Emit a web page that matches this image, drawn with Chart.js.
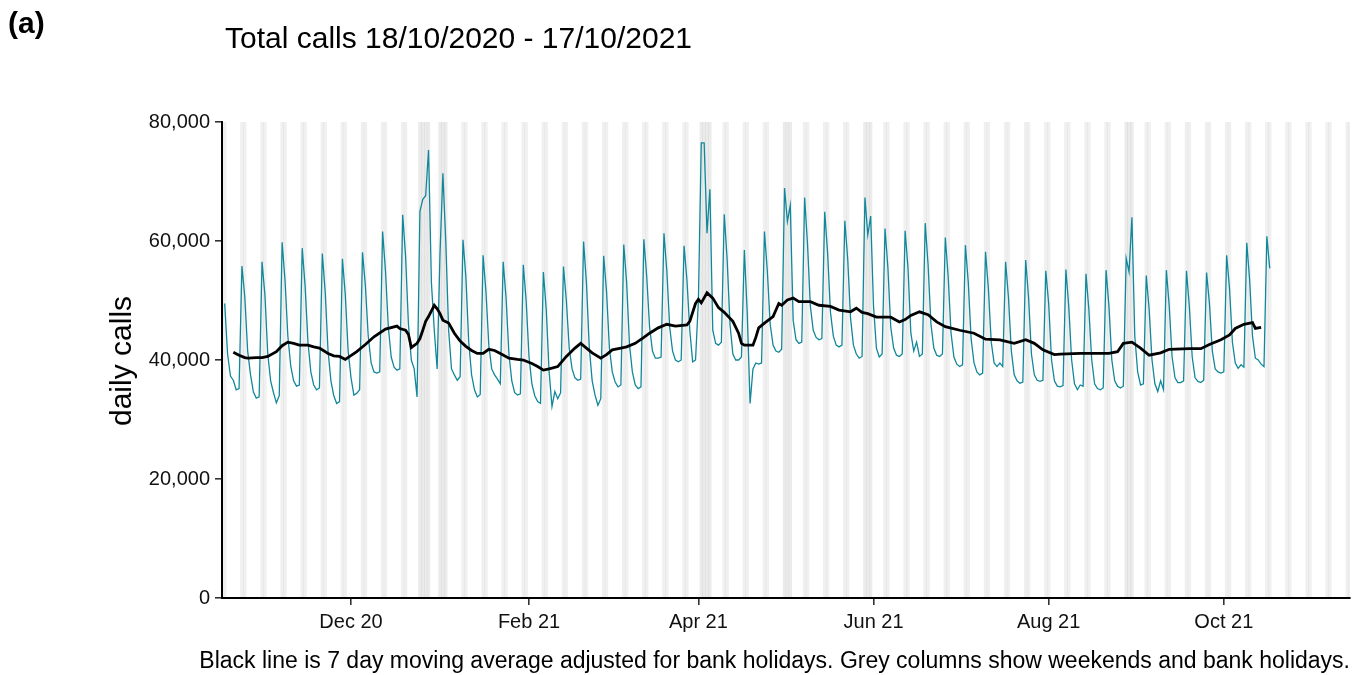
<!DOCTYPE html>
<html><head><meta charset="utf-8">
<script src="https://cdn.jsdelivr.net/npm/chart.js@4.4.1/dist/chart.umd.min.js"></script>
<style>
html,body{margin:0;padding:0;background:#fff;}
#wrap{position:relative;width:1367px;height:675px;font-family:"Liberation Sans",Arial,sans-serif;color:#000;overflow:hidden;}
canvas{position:absolute;left:0;top:0;}
.txt{position:absolute;white-space:nowrap;}
</style></head><body>
<div id="wrap">
<canvas id="c" width="1367" height="675"></canvas>
<div class="txt" style="left:8px;top:8px;font-size:30px;line-height:30px;font-weight:bold;">(a)</div>
<div class="txt" style="left:225px;top:23px;font-size:30px;line-height:30px;">Total calls 18/10/2020 - 17/10/2021</div>
<div class="txt" style="left:121px;top:361px;font-size:30px;line-height:30px;transform:translate(-50%,-50%) rotate(-90deg);">daily calls</div>
<div class="txt" style="right:17px;top:649px;font-size:23px;line-height:23px;">Black line is 7 day moving average adjusted for bank holidays. Grey columns show weekends and bank holidays.</div>
</div>
<script>
// day 0 = Sunday 18 Oct 2020
const startDate = '2020-10-18';
const dailyCalls = [
49500,41000,37300,36600,35000,35200,55800,
50600,41500,37500,34600,33600,33800,56500,
51000,41000,36500,34500,32800,34000,59800,
53500,44000,39000,36500,35600,35800,58800,
52500,43000,38000,35800,35000,35300,57900,
51500,41500,36500,34000,32700,33000,57000,
51000,41500,37000,34100,34400,35000,58100,
52500,44000,39500,38000,37800,38000,61600,
55000,45500,40500,38800,38300,38500,64400,
57500,46000,40000,38500,33800,65000,67000,
67600,75300,53000,45000,38500,58000,71400,
60000,45000,38500,37500,36600,37200,60200,
54000,43000,37500,35000,33800,34200,57600,
51500,42500,38500,37500,36800,36000,56500,
50500,41000,36500,34500,34100,34300,56000,
50000,40500,36000,34000,33000,32700,54800,
48500,38000,32200,34700,33500,34500,55700,
50000,42000,38500,37000,36600,36800,59900,
53000,42000,36500,34100,32400,33500,57500,
51500,42000,38000,36300,35500,35800,59400,
53000,42500,38000,35800,35200,35500,60300,
54000,45500,41500,40300,40300,40500,61300,
55000,45500,41500,40000,39700,40000,59200,
53500,45000,39700,40000,50000,76500,76500,
61300,68700,45000,42800,42500,43000,64500,
57000,46000,41000,40000,40000,40500,58500,
48000,32700,38500,39500,39300,39500,61600,
55000,46000,42500,41500,41300,41800,68900,
63300,66000,46700,43400,42800,43000,67300,
59500,49000,45000,43800,43400,43600,64900,
58000,48000,44000,42500,42200,42500,63400,
57000,47000,42500,41000,40300,40600,67300,
61000,64200,49000,42000,40500,41000,62100,
55500,45500,42000,40800,40600,41000,61700,
55500,44500,41500,43000,40600,41000,63000,
56000,46000,42000,40800,40600,41000,60600,
54000,44500,40500,39300,38900,39200,59300,
53000,43500,39500,38000,37500,37800,58200,
52000,43000,39500,38900,39500,38900,56500,
50500,41500,37500,36500,36100,36300,56800,
50500,41000,37500,36600,36400,36600,55000,
49500,40000,36500,35600,35500,35700,55200,
49000,40000,36000,35000,35800,35600,54500,
48500,40000,36000,35200,35000,35300,55100,
49000,40000,36500,35600,35300,35600,57100,
54800,64000,44000,38000,35800,36000,54200,
48500,40000,36000,34700,36500,35000,55100,
49000,40500,37000,36200,36200,36500,55000,
49000,40500,37000,36400,36200,36600,54700,
49500,41500,38500,38000,37800,38000,57600,
52000,43000,39500,38600,39200,38800,59700,
53500,44000,40300,40000,39300,38900,60800,
55400
];
// 7-day moving average, day index and value
const maDays = [3,5,7,8,11,13,15,18,20,22,24,26,29,31,33,36,38,40,42,46,49,52,56,60,61,63,64,65,67,68,69,70,71,73,74,75,76,78,80,82,84,86,88,90,92,94,96,99,102,104,107,109,111,113,116,119,122,124,126,128,131,133,135,138,140,143,146,148,151,154,157,161,162,164,165,166,168,170,172,174,177,179,180,181,184,185,186,188,191,193,194,196,198,200,204,207,211,214,218,220,222,224,227,232,235,237,239,242,245,248,251,256,261,265,270,275,279,282,285,289,291,298,305,308,311,313,316,319,322,326,329,336,340,343,347,350,352,355,358,359,361];
const maValues = [41300,40800,40400,40300,40400,40400,40600,41400,42400,43000,42800,42500,42500,42200,42000,41100,40700,40600,40100,41400,42600,43900,45200,45700,45300,45000,44300,42100,42800,43600,45000,46500,47300,49200,48600,47800,46700,46200,44500,43200,42300,41600,41100,41100,41800,41600,41100,40300,40100,40000,39400,38900,38300,38500,38900,40600,42000,42800,42000,41200,40300,40900,41700,42000,42200,42800,43800,44500,45400,46000,45700,45900,46500,49500,50200,49600,51300,50400,48800,48000,46500,44500,42800,42500,42500,43800,45400,46200,47300,49500,49200,50100,50400,49800,49800,49200,49000,48400,48100,48700,48000,47800,47200,47200,46400,46800,47500,48100,47600,46400,45600,45000,44500,43500,43400,42800,43400,42800,41700,40900,41000,41100,41100,41100,41400,42800,43000,42000,40800,41200,41800,41900,41900,42600,43400,44200,45300,46000,46300,45300,45500];
const bankHolidays = ['2020-12-25','2020-12-28','2021-01-01','2021-04-02','2021-04-05','2021-05-03','2021-05-31','2021-08-30'];
const tickDays = [44,106,165,226,287,348];
const tickLabels = ['Dec 20','Feb 21','Apr 21','Jun 21','Aug 21','Oct 21'];
const yTicks = [0,20000,40000,60000,80000];

const DAY = 86400000;
const t0 = Date.parse(startDate + 'T00:00:00Z');
const dayIndex = s => Math.round((Date.parse(s + 'T00:00:00Z') - t0) / DAY);
const lastDay = 392;
const isWeekend = d => { const w = new Date(t0 + d * DAY).getUTCDay(); return w === 0 || w === 6; };
const bhIdx = bankHolidays.map(dayIndex);
const greyDays = [];
for (let d = 0; d <= lastDay; d++) if (isWeekend(d) || bhIdx.includes(d)) greyDays.push(d);
const longWeekendDays = [];
bhIdx.forEach(b => { for (let d = b - 2; d <= b + 2; d++) { if ((d === b || isWeekend(d)) && !longWeekendDays.includes(d)) longWeekendDays.push(d); } });
const yMax = yTicks[yTicks.length - 1];

const FONT = '"Liberation Sans", Arial, sans-serif';
new Chart(document.getElementById('c'), {
  type: 'line',
  data: {
    datasets: [
      { type: 'line', label: '7 day average', data: maDays.map((d, i) => ({ x: d, y: maValues[i] })),
        borderColor: '#000', borderWidth: 2.8, pointRadius: 0, tension: 0, order: 0 },
      { type: 'line', label: 'daily calls', data: dailyCalls.map((v, i) => ({ x: i, y: v })),
        borderColor: '#11879a', borderWidth: 1.3, pointRadius: 0, tension: 0, order: 1 },
      { type: 'bar', label: 'holiday', data: longWeekendDays.map(d => ({ x: d, y: yMax })),
        backgroundColor: 'rgba(0,0,0,0.025)', barPercentage: 1, categoryPercentage: 1, grouped: false, order: 2 },
      { type: 'bar', label: 'weekend', data: greyDays.map(d => ({ x: d, y: yMax })),
        backgroundColor: 'rgba(0,0,0,0.06)', barPercentage: 1, categoryPercentage: 1, grouped: false, order: 3 }
    ]
  },
  options: {
    responsive: false, animation: false, devicePixelRatio: 1,
    layout: { padding: { left: 0, right: 17, top: 122, bottom: 0 } },
    plugins: { legend: { display: false }, tooltip: { enabled: false }, title: { display: false } },
    scales: {
      x: {
        type: 'linear', min: -0.94, max: 391.96, offset: false,
        afterFit(s) { s.height = 77; },
        afterBuildTicks(s) { s.ticks = tickDays.map(v => ({ value: v })); },
        ticks: { autoSkip: false, maxRotation: 0, padding: 5, color: '#111',
          font: { family: FONT, size: 20 },
          callback(v) { const i = tickDays.indexOf(v); return i >= 0 ? tickLabels[i] : ''; } },
        grid: { offset: false, drawOnChartArea: false, drawTicks: true, tickLength: 7, color: '#333', lineWidth: 1.6 },
        border: { display: true, color: '#000', width: 2 }
      },
      y: {
        min: 0, max: yMax,
        afterFit(s) { s.width = 222; },
        afterBuildTicks(s) { s.ticks = yTicks.map(v => ({ value: v })); },
        ticks: { padding: 5, color: '#111', font: { family: FONT, size: 20 },
          callback(v) { return v.toLocaleString('en-US'); } },
        grid: { drawOnChartArea: false, drawTicks: true, tickLength: 7, color: '#333', lineWidth: 1.6 },
        border: { display: true, color: '#000', width: 2 }
      }
    }
  }
});
</script>
</body></html>
